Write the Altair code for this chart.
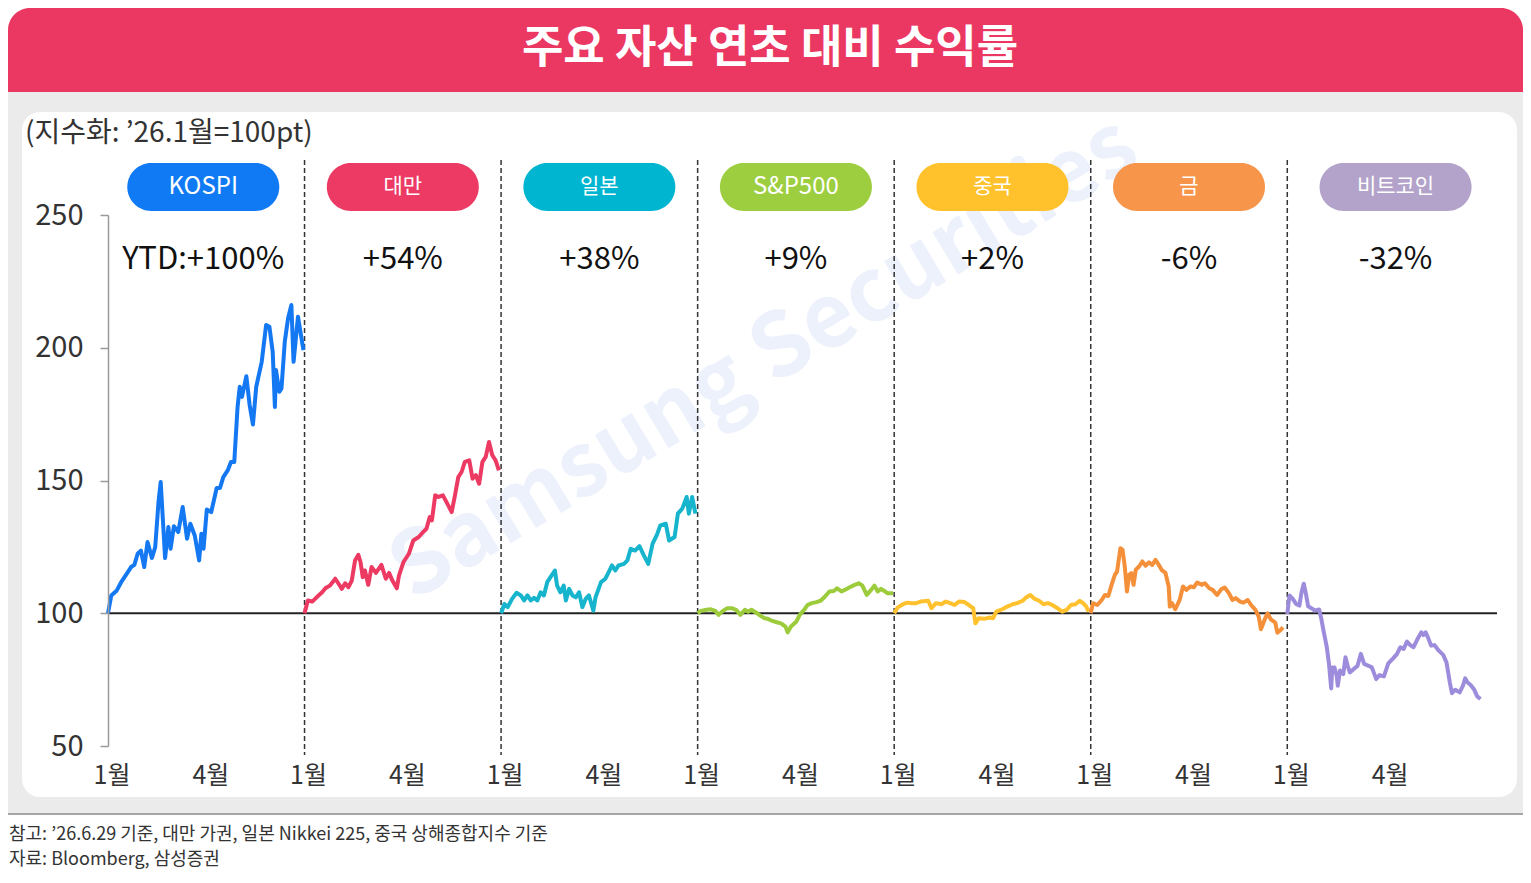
import altair as alt
import pandas as pd

FONT = "Noto Sans CJK KR"
PANEL = 179          # 1/1 ~ 6/29 (days)
X_MAX = 1265
W, H = 1389, 531
PX = W / X_MAX       # px per day

names = ["KOSPI", "대만", "일본", "S&P500", "중국", "금", "비트코인"]
ytd_labels = ["YTD:+100%", "+54%", "+38%", "+9%", "+2%", "-6%", "-32%"]
line_colors = ["#1478F2", "#EC3A63", "#17B4CD", "#9CCB3B", "#FFC22E", "#F5903A", "#9D8CDC"]
pill_colors = ["#0F7AF3", "#EC3A64", "#00B5D0", "#9DCE3F", "#FFC12C", "#F7964B", "#B3A3CA"]

kospi_days = [0, 3, 8, 12, 17, 21, 24, 27, 30, 33, 36, 40, 43, 46, 48, 52, 55, 57, 60, 64,
              68, 72, 75, 79, 83, 85, 87, 90, 94, 99, 102, 105, 109, 112, 115, 118, 120, 122, 126, 129,
              132, 135, 140, 144, 147, 150, 152, 153, 156, 158, 161, 164, 167, 169, 173, 178]
kospi_vals = [100, 106.7, 108.6, 111.7, 114.8, 117.4, 118.2, 122.4, 123.6, 117.4, 126.8, 120.8, 124.9, 141.9,
              149.4, 120.8, 132.5, 124.3, 132.8, 130.6, 140.0, 128.1, 133.7, 129.3, 119.9, 129.9, 124.3, 139.1,
              138.1, 147.2, 147.2, 151.3, 153.8, 157.0, 157.0, 177.7, 185.3, 181.5, 189.3, 178.4, 171.1, 185.3,
              194.7, 208.6, 207.9, 198.5, 177.7, 191.6, 183.4, 184.7, 202.3, 211.1, 216.1, 194.7, 211.7, 199.1]

taiwan_days = [0, 3, 7, 11, 16, 19, 23, 28, 31, 34, 37, 40, 43, 46, 49, 51, 53, 55, 58, 61,
               65, 70, 74, 77, 80, 84, 86, 90, 95, 99, 104, 108, 111, 114, 116, 119, 122, 126, 130, 134,
               137, 140, 143, 146, 150, 153, 156, 159, 162, 165, 168, 171, 174, 177]
taiwan_vals = [100, 104.8, 104.4, 106.0, 107.9, 109.4, 110.4, 113.0, 111.1, 109.2, 111.3, 109.8, 112.3, 119.9,
               122.0, 119.2, 113.6, 116.1, 110.7, 117.4, 115.2, 118.2, 113.0, 115.2, 112.3, 109.4, 114.2, 119.2,
               122.4, 127.4, 128.7, 130.6, 131.8, 136.2, 135.0, 144.4, 143.8, 144.4, 141.3, 138.1, 144.4, 151.3,
               153.2, 157.0, 157.6, 150.7, 152.0, 148.8, 157.0, 158.9, 164.5, 159.5, 157.6, 153.8]

japan_days = [0, 3, 6, 10, 14, 18, 21, 24, 27, 30, 33, 36, 39, 42, 45, 49, 51, 54, 57, 59,
              62, 65, 68, 71, 74, 77, 80, 84, 86, 91, 95, 98, 101, 104, 107, 112, 115, 118, 122, 126,
              130, 134, 138, 142, 145, 150, 153, 158, 161, 165, 169, 171, 174, 177]
japan_vals = [100, 103.5, 102.3, 105.4, 107.7, 106.7, 104.8, 106.7, 104.8, 105.8, 104.8, 107.9, 106.7, 111.7,
              113.6, 116.1, 110.4, 107.9, 110.4, 104.8, 109.2, 106.7, 106.0, 107.9, 102.3, 105.4, 106.7, 101.0,
              106.0, 111.7, 113.0, 115.5, 118.0, 116.1, 118.0, 118.6, 119.9, 124.3, 123.6, 125.3, 121.8, 118.6,
              126.2, 129.6, 133.1, 133.7, 127.4, 128.7, 137.5, 139.4, 143.8, 137.5, 143.8, 137.5]

spx_days = [0, 3, 8, 12, 16, 19, 23, 27, 31, 35, 39, 43, 46, 49, 53, 57, 61, 64, 68, 72,
            76, 80, 82, 85, 90, 93, 97, 100, 104, 108, 112, 116, 120, 124, 127, 131, 134, 138, 143, 147,
            150, 154, 158, 161, 164, 167, 170, 173, 178]
spx_vals = [100, 100.9, 101.3, 101.5, 100.9, 99.4, 100.9, 101.9, 101.9, 101.3, 99.4, 101.3, 100.6, 101.3,
            100.3, 99.1, 98.1, 97.9, 97.1, 96.6, 96.2, 95.0, 92.8, 95.0, 96.9, 99.4, 101.3, 103.1, 103.8, 104.2,
            104.7, 106.3, 108.2, 108.4, 109.4, 108.2, 108.8, 109.7, 110.7, 111.3, 110.4, 106.9, 108.8, 110.4,
            108.2, 109.2, 108.4, 107.5, 107.5]

china_days = [0, 3, 8, 12, 16, 20, 24, 31, 34, 38, 43, 47, 51, 55, 59, 64, 68, 72, 74, 77,
              82, 87, 90, 93, 99, 103, 108, 112, 117, 120, 124, 128, 132, 136, 140, 144, 148, 153, 157, 161,
              165, 169, 172, 175, 177]
china_vals = [100, 102.1, 103.4, 104.0, 103.8, 103.8, 104.4, 104.7, 101.9, 103.8, 103.4, 104.4, 103.8, 103.1,
              104.4, 104.2, 103.1, 101.9, 96.2, 98.1, 97.9, 98.4, 98.1, 100.6, 101.6, 102.5, 103.4, 103.8, 104.7,
              105.9, 106.9, 105.4, 104.7, 103.4, 103.8, 103.1, 102.1, 100.6, 101.3, 103.1, 103.4, 104.7, 103.8,
              102.5, 100.6]

gold_days = [0, 2, 6, 10, 13, 16, 19, 22, 24, 27, 29, 31, 33, 35, 37, 39, 41, 44, 47, 50,
             53, 56, 59, 62, 65, 68, 71, 72, 74, 77, 81, 84, 87, 91, 94, 97, 101, 104, 108, 111,
             115, 119, 122, 126, 129, 132, 136, 139, 143, 146, 150, 153, 155, 158, 161, 164, 168, 170, 173, 175]
gold_vals = [100, 103.8, 103.1, 105.0, 106.9, 106.5, 110.7, 114.5, 115.7, 124.5, 123.9, 117.6, 108.2, 114.5,
             115.1, 110.7, 116.4, 117.6, 119.5, 117.9, 119.2, 118.2, 120.1, 118.2, 116.1, 115.3, 110.1, 102.5,
             103.8, 101.5, 105.0, 110.1, 108.8, 110.1, 109.8, 111.6, 110.7, 111.3, 109.4, 108.8, 106.9, 109.1,
             109.7, 107.5, 105.0, 105.7, 104.4, 104.0, 105.0, 103.1, 101.3, 98.7, 94.0, 97.2, 100, 97.7, 96.5,
             92.7, 93.7, 94.7]

btc_days = [0, 2, 5, 8, 11, 13, 15, 17, 19, 22, 25, 29, 31, 33, 36, 38, 40, 41, 43, 45,
            46, 48, 51, 53, 55, 57, 61, 64, 67, 70, 74, 77, 81, 84, 88, 92, 96, 100, 103, 106,
            109, 112, 115, 119, 122, 124, 126, 128, 131, 134, 138, 142, 145, 148, 150, 153, 157, 160, 162, 164,
            167, 170, 173, 176]
btc_vals = [99.7, 106.7, 105.4, 103.5, 102.9, 107.9, 111.1, 107.3, 102.6, 101.9, 101.0, 101.4, 97.9, 93.5,
            87.2, 80.9, 71.7, 79.6, 79.6, 76.5, 72.7, 78.4, 77.1, 83.4, 80.2, 77.7, 79.2, 80.2, 84.7, 80.9,
            80.2, 79.6, 75.2, 76.7, 76.2, 81.1, 82.8, 84.7, 87.2, 86.6, 89.3, 88.0, 87.2, 90.6, 92.8, 91.8,
            92.8, 91.0, 87.8, 88.0, 85.9, 84.3, 81.5, 74.0, 69.9, 71.2, 70.2, 72.7, 75.5, 74.0, 73.0, 71.4,
            68.7, 67.7]

all_days = [kospi_days, taiwan_days, japan_days, spx_days, china_days, gold_days, btc_days]
all_vals = [kospi_vals, taiwan_vals, japan_vals, spx_vals, china_vals, gold_vals, btc_vals]

month_labels = ["1월", "4월"]
month_days = [0, 90]

rows = []
for i, (n, ds, vs) in enumerate(zip(names, all_days, all_vals)):
    for d, v in zip(ds, vs):
        rows.append({"asset": n, "t": i * PANEL + d, "v": v})
df = pd.DataFrame(rows)

# pill / label placement
shift_px = {"KOSPI": -3, "비트코인": 10}
half = 76 / PX
lab = pd.DataFrame({"asset": names, "ytd": ytd_labels})
lab["c"] = [i * PANEL + PANEL / 2 + shift_px.get(n, 0) / PX for i, n in enumerate(names)]
lab["x1"] = lab["c"] - half
lab["x2"] = lab["c"] + half
lab["fs"] = [24 if n.isascii() else 21 for n in names]

xl = pd.DataFrame([{"t": i * PANEL + d, "lab": m}
                   for i in range(len(names)) for d, m in zip(month_days, month_labels)])
seps = pd.DataFrame({"t": [i * PANEL for i in range(1, len(names))]})
one = pd.DataFrame({"a": [0]})

xs = alt.Scale(domain=[0, X_MAX], nice=False, zero=False)
ys = alt.Scale(domain=[50, 250], nice=False, zero=False)


def box(x, x2, y, y2, color, **kw):
    return alt.Chart(one).mark_rect(color=color, **kw).encode(
        x=alt.value(x), x2=alt.value(x2), y=alt.value(y), y2=alt.value(y2))


def label(text, x, y, **kw):
    return alt.Chart(one).mark_text(text=text, font=FONT, **kw).encode(x=alt.value(x), y=alt.value(y))


bg = box(-100, 1415, -123, 599, "#EBEBEB")
panel = box(-86, 1409, -103, 582, "white", cornerRadius=18)
header = box(-100, 1415, -207, -123, "#EB3863", cornerRadiusTopLeft=22, cornerRadiusTopRight=22)
hline = alt.Chart(one).mark_rule(color="#A6A6A6", strokeWidth=2).encode(
    x=alt.value(-100), x2=alt.value(1415), y=alt.value(599))

title = label("주요 자산 연초 대비 수익률", 662, -166, fontSize=45, fontWeight="bold", color="white",
              align="center", baseline="middle")
sub = label("(지수화: ’26.1월=100pt)", -83, -81, fontSize=28, color="#333333", align="left", baseline="middle")
note1 = label("참고: ’26.6.29 기준, 대만 가권, 일본 Nikkei 225, 중국 상해종합지수 기준", -99, 620,
              fontSize=18, color="#333333", align="left", baseline="middle")
note2 = label("자료: Bloomberg, 삼성증권", -99, 645, fontSize=18, color="#333333", align="left", baseline="middle")
wm = label("Samsung Securities", 657, 145, fontSize=88, fontWeight="bold", color="#ECF1FC", angle=329,
           align="center", baseline="middle")

sep = alt.Chart(seps).mark_rule(color="#333333", strokeWidth=1.5, strokeDash=[5, 3]).encode(
    x=alt.X("t:Q", scale=xs, axis=None),
    y=alt.datum(270.7, scale=ys), y2=alt.datum(46.6))

base = alt.Chart(pd.DataFrame({"v": [100]})).mark_rule(color="#222222", strokeWidth=2).encode(
    y=alt.Y("v:Q", scale=ys))

lines = alt.Chart(df).mark_line(strokeWidth=4, strokeJoin="round").encode(
    x=alt.X("t:Q", scale=xs, axis=None),
    y=alt.Y("v:Q", scale=ys, axis=alt.Axis(values=[50, 100, 150, 200, 250], grid=False, title=None,
                                            domainColor="#9A9A9A", domainWidth=1.5, tickColor="#9A9A9A",
                                            tickWidth=1.5, tickSize=8, labelFontSize=29, labelColor="#333333",
                                            labelFont=FONT, labelPadding=17, zindex=1)),
    color=alt.Color("asset:N", scale=alt.Scale(domain=names, range=line_colors), legend=None),
    order=alt.Order("t:Q"))

pills = alt.Chart(lab).mark_rect(cornerRadius=24).encode(
    x=alt.X("x1:Q", scale=xs), x2="x2:Q",
    y=alt.datum(269.6, scale=ys), y2=alt.datum(251.5),
    color=alt.Color("asset:N", scale=alt.Scale(domain=names, range=pill_colors), legend=None))

pill_txt = alt.Chart(lab).mark_text(font=FONT, color="white", baseline="middle").encode(
    x=alt.X("c:Q", scale=xs), y=alt.datum(260.6, scale=ys),
    text="asset:N", size=alt.Size("fs:Q", scale=None, legend=None))

ytd = alt.Chart(lab).mark_text(font=FONT, fontSize=31, color="#111111", baseline="middle").encode(
    x=alt.X("c:Q", scale=xs), y=alt.datum(233, scale=ys), text="ytd:N")

xlab = alt.Chart(xl).mark_text(font=FONT, fontSize=25, color="#333333", baseline="middle", dx=4).encode(
    x=alt.X("t:Q", scale=xs), y=alt.value(561), text="lab:N")

chart = alt.layer(
    bg, panel, header, hline, title, sub, note1, note2, wm,
    sep, base, lines, pills, pill_txt, ytd, xlab
).resolve_scale(color="independent").properties(
    width=W, height=H,
    autosize=alt.AutoSizeParams(type="none"),
    padding={"left": 100, "top": 207, "right": 26, "bottom": 124},
    background="white",
).configure_view(stroke=None)

chart.save("out.html", embed_options={"renderer": "svg", "actions": False})
